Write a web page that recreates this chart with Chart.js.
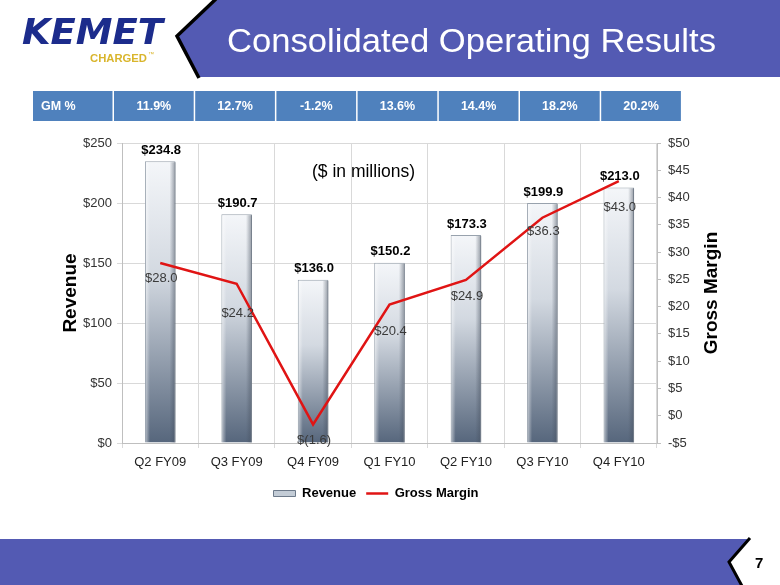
<!DOCTYPE html>
<html>
<head>
<meta charset="utf-8">
<script src="https://cdn.jsdelivr.net/npm/chart.js@4.4.1/dist/chart.umd.min.js"></script>
<style>
html,body{margin:0;padding:0;background:#fff;}
#wrap{position:relative;width:780px;height:585px;overflow:hidden;background:#fff;}
#chartBox{position:absolute;left:0;top:0;width:780px;height:585px;}
#deco{position:absolute;left:0;top:0;pointer-events:none;}
text{font-family:Arial,"Liberation Sans",sans-serif;}
</style>
</head>
<body>
<div id="wrap">
  <div id="chartBox"><canvas id="c"></canvas></div>
  <svg id="deco" width="780" height="585" xmlns="http://www.w3.org/2000/svg">
    <polygon points="217,0 780,0 780,77 200,77 178,36" fill="#535ab3"/>
    <polyline points="216,-1 177,36 199,78" fill="none" stroke="#000" stroke-width="3.5"/>
    <text x="22" y="44" font-size="36" font-weight="bold" font-style="italic" fill="#1c2c8c" style="font-family:'DejaVu Sans',Arial,sans-serif" textLength="141" lengthAdjust="spacingAndGlyphs">KEMET</text>
    <text x="90" y="62" font-size="11.5" font-weight="bold" fill="#d9b52c" textLength="57" lengthAdjust="spacingAndGlyphs">CHARGED</text>
    <text x="148" y="56" font-size="6" fill="#d9b52c">™</text>
    <text x="227" y="52" font-size="34" fill="#fff" textLength="489" lengthAdjust="spacingAndGlyphs">Consolidated Operating Results</text>
    <g id="gmTable"></g>
    <text x="312" y="177" font-size="17.5" fill="#000">($ in millions)</text>
    <polygon points="0,539 749,539 729,562 741,585 0,585" fill="#535ab3"/>
    <polyline points="750,538 729,562 742,586" fill="none" stroke="#000" stroke-width="3"/>
    <text x="755" y="568" font-size="15" font-weight="bold" fill="#000">7</text>
  </svg>
</div>
<script>
// ---- data ----
const categories = ['Q2 FY09', 'Q3 FY09', 'Q4 FY09', 'Q1 FY10', 'Q2 FY10', 'Q3 FY10', 'Q4 FY10'];
const revenue = [234.8, 190.7, 136.0, 150.2, 173.3, 199.9, 213.0];
const grossMargin = [28.0, 24.2, -1.6, 20.4, 24.9, 36.3, 43.0];
const gmPercent = ['11.9%', '12.7%', '-1.2%', '13.6%', '14.4%', '18.2%', '20.2%'];
const revenueTicks = [0, 50, 100, 150, 200, 250];
const marginTicks = [-5, 0, 5, 10, 15, 20, 25, 30, 35, 40, 45, 50];

// label drop below line points (style, px)
const gmLabelDrop = [15, 30, 16, 27, 17, 14, 26];

Chart.defaults.font.family = 'Arial, "Liberation Sans", sans-serif';

// ---- GM % table (decoration text) ----
(function(){
  const NS = 'http://www.w3.org/2000/svg';
  const g = document.getElementById('gmTable');
  const top = 91, h = 30, x0 = 114, w = 81.2;
  function cell(x, width, label, anchor, tx){
    const r = document.createElementNS(NS, 'rect');
    r.setAttribute('x', x); r.setAttribute('y', top);
    r.setAttribute('width', width); r.setAttribute('height', h);
    r.setAttribute('fill', '#4f81bd');
    g.appendChild(r);
    const t = document.createElementNS(NS, 'text');
    t.setAttribute('x', tx); t.setAttribute('y', top + h/2 + 4.4);
    t.setAttribute('font-size', '12.5'); t.setAttribute('font-weight', 'bold');
    t.setAttribute('fill', '#fff'); t.setAttribute('text-anchor', anchor);
    t.textContent = label;
    g.appendChild(t);
  }
  cell(33, x0 - 33 - 1.5, 'GM %', 'start', 41);
  gmPercent.forEach((p, i) => {
    const x = x0 + i * w;
    cell(x, w - 1.5, p, 'middle', x + (w - 1.5) / 2);
  });
})();

const fmtRev = v => '$' + v.toFixed(1);
const fmtGM = v => v < 0 ? '$(' + Math.abs(v).toFixed(1) + ')' : '$' + v.toFixed(1);

const barFill = (ctx) => {
  const chart = ctx.chart, ca = chart.chartArea;
  if (!ca || ctx.type !== 'data' || !ctx.parsed) return '#c5ced8';
  const yS = chart.scales.y;
  const top = yS.getPixelForValue(ctx.parsed.y), base = yS.getPixelForValue(0);
  const g = chart.ctx.createLinearGradient(0, top, 0, base);
  g.addColorStop(0, '#f4f6f9');
  g.addColorStop(0.4, '#d3d9e1');
  g.addColorStop(1, '#56667c');
  return g;
};

const barBevel = {
  id: 'barBevel',
  afterDatasetDraw(chart, args) {
    if (args.index !== 0) return;
    const c = chart.ctx;
    args.meta.data.forEach(el => {
      const {x, y, base, width} = el.getProps(['x', 'y', 'base', 'width'], true);
      const l = x - width / 2, r = x + width / 2, h = base - y;
      c.save();
      let g = c.createLinearGradient(r - 6, 0, r, 0);
      g.addColorStop(0, 'rgba(70,80,95,0)');
      g.addColorStop(1, 'rgba(70,80,95,0.55)');
      c.fillStyle = g; c.fillRect(r - 6, y + 1, 6, h - 1);
      g = c.createLinearGradient(l, 0, l + 5, 0);
      g.addColorStop(0, 'rgba(255,255,255,0.6)');
      g.addColorStop(1, 'rgba(255,255,255,0)');
      c.fillStyle = g; c.fillRect(l + 1, y + 1, 5, h - 1);
      c.restore();
    });
  }
};

const valueLabels = {
  id: 'valueLabels',
  afterDatasetsDraw(chart) {
    const c = chart.ctx;
    c.save();
    c.textAlign = 'center'; c.textBaseline = 'middle';
    c.font = 'bold 13px Arial, "Liberation Sans", sans-serif';
    c.fillStyle = '#000';
    chart.getDatasetMeta(0).data.forEach((el, i) => {
      c.fillText(fmtRev(revenue[i]), el.x + 1, el.y - 11);
    });
    c.font = '13px Arial, "Liberation Sans", sans-serif';
    c.fillStyle = '#3a3a3a';
    chart.getDatasetMeta(1).data.forEach((el, i) => {
      c.fillText(fmtGM(grossMargin[i]), el.x + 1, el.y + gmLabelDrop[i]);
    });
    c.restore();
  }
};

const rightTitle = {
  id: 'rightTitle',
  afterDraw(chart) {
    const s = chart.scales.y1, c = chart.ctx;
    c.save();
    c.translate(s.left + 55, (s.top + s.bottom) / 2);
    c.rotate(-Math.PI / 2);
    c.textAlign = 'center'; c.textBaseline = 'middle';
    c.font = 'bold 19px Arial, "Liberation Sans", sans-serif';
    c.fillStyle = '#000';
    c.fillText('Gross Margin', 0, 0);
    c.restore();
  }
};

new Chart(document.getElementById('c'), {
  data: {
    labels: categories,
    datasets: [
      {
        type: 'bar', label: 'Revenue', data: revenue, yAxisID: 'y', order: 1,
        backgroundColor: barFill, borderColor: '#98a2ad', borderWidth: 1,
        borderSkipped: 'bottom', barPercentage: 0.4, categoryPercentage: 1.0
      },
      {
        type: 'line', label: 'Gross Margin', data: grossMargin, yAxisID: 'y1', order: 0,
        borderColor: '#e01414', borderWidth: 2.5, pointRadius: 0, tension: 0, fill: false,
        pointStyle: 'line'
      }
    ]
  },
  options: {
    responsive: true, maintainAspectRatio: false, animation: false,
    layout: {padding: {top: 143, left: 20, right: 48, bottom: 75}},
    plugins: {
      tooltip: {enabled: false},
      legend: {
        position: 'bottom',
        labels: {
          usePointStyle: true, pointStyleWidth: 22, boxHeight: 6, padding: 10,
          color: '#000', font: {size: 13, weight: 'bold'},
          sort: (a, b) => a.datasetIndex - b.datasetIndex,
          generateLabels: (chart) => {
            const items = Chart.defaults.plugins.legend.labels.generateLabels(chart);
            items.forEach(it => {
              if (it.datasetIndex === 0) {
                it.pointStyle = 'rect'; it.fillStyle = '#c3ccd6'; it.strokeStyle = '#6d7a8a'; it.lineWidth = 1;
              } else {
                it.pointStyle = 'line'; it.strokeStyle = '#e01414'; it.lineWidth = 2.5;
              }
            });
            return items;
          }
        }
      }
    },
    scales: {
      x: {
        grid: {color: '#d9d9d9', tickLength: 5, offset: true},
        border: {color: '#bfbfbf'},
        ticks: {font: {size: 13}, color: '#222', padding: 7},
        afterFit: s => { s.height = 34; }
      },
      y: {
        position: 'left', min: 0, max: 250,
        afterBuildTicks: s => { s.ticks = revenueTicks.map(v => ({value: v})); },
        ticks: {callback: v => '$' + v, font: {size: 13}, color: '#333', padding: 5},
        grid: {color: '#d9d9d9', tickLength: 5},
        border: {color: '#bfbfbf'},
        title: {display: true, text: 'Revenue', color: '#000', font: {size: 19, weight: 'bold'}, padding: {top: 39, bottom: 0}},
        afterFit: s => { s.width = 102; }
      },
      y1: {
        position: 'right', min: -5, max: 50,
        afterBuildTicks: s => { s.ticks = marginTicks.map(v => ({value: v})); },
        ticks: {callback: v => (v < 0 ? '-$' + Math.abs(v) : '$' + v), font: {size: 13}, color: '#333', padding: 7},
        grid: {drawOnChartArea: false, tickLength: 4, color: '#bfbfbf'},
        border: {color: '#bfbfbf'},
        afterFit: s => { s.width = 75; }
      }
    }
  },
  plugins: [barBevel, valueLabels, rightTitle]
});
</script>
</body>
</html>
